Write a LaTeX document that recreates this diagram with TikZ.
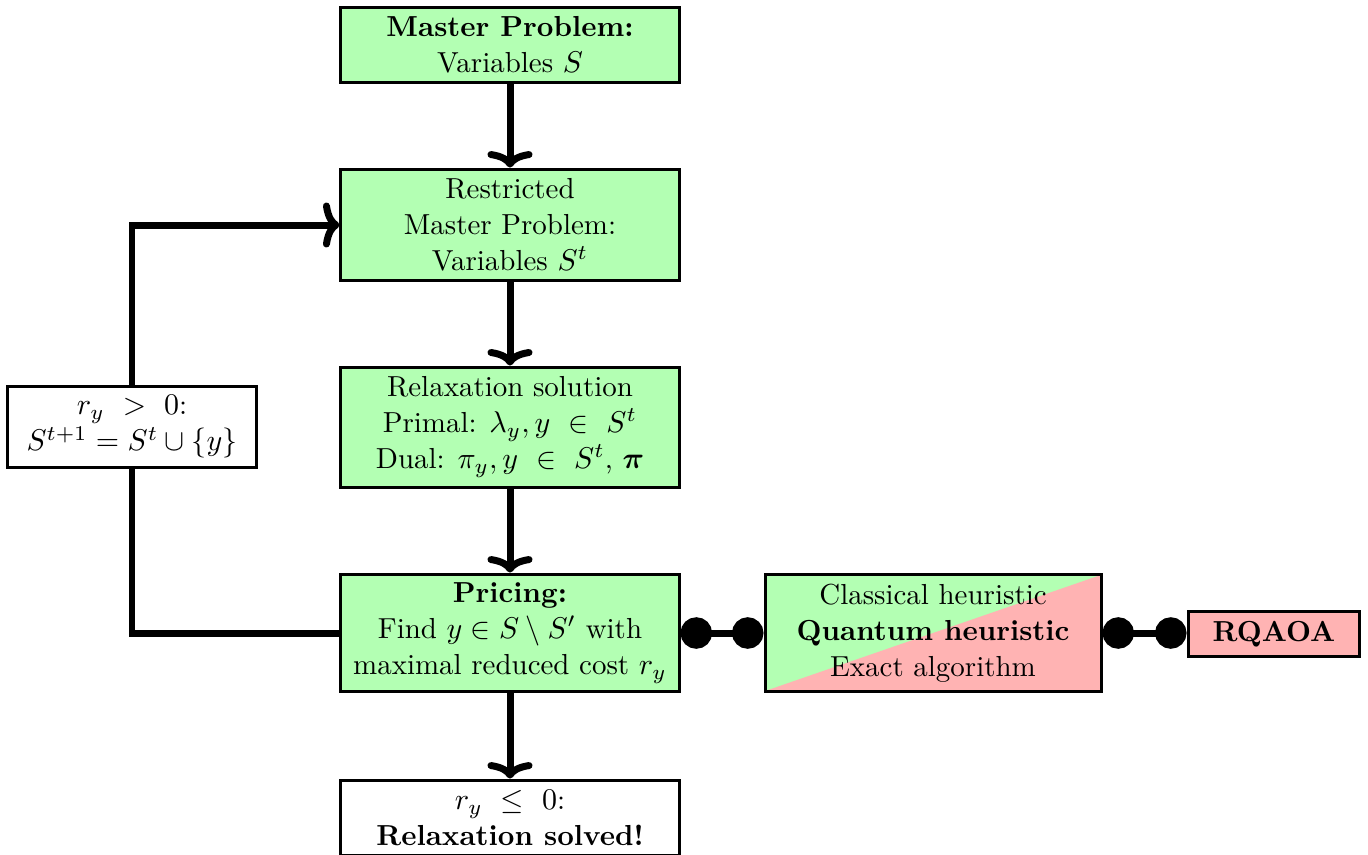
\documentclass[tikz,border=0pt]{standalone}
\usepackage{bm}
\usetikzlibrary{arrows.meta}
\definecolor{boxgreen}{HTML}{B3FFB3}
\definecolor{boxred}{HTML}{FFB3B3}
\begin{document}
\begin{tikzpicture}[x=0.33333pt,y=-0.33333pt,
  box/.style={draw=black,line width=1pt,align=center,inner sep=0pt,minimum width=112.7pt,font=\fontsize{9.65}{12}\selectfont},
  gbox/.style={box,fill=boxgreen},
  flow/.style={line width=2.33pt,-{To[length=5.5pt,width=15pt,line width=2.33pt,round]}},
  plain/.style={line width=2.33pt},
  dots/.style={line width=2.33pt,{Circle[length=10.5pt,width=10.5pt]}-{Circle[length=10.5pt,width=10.5pt]}}]
\useasboundingbox (0,0) rectangle (1368,854);
\node[gbox,minimum height=25.3pt] (master) at (510,45) {\textbf{Master Problem:}\\ Variables $S$};
\node[gbox,minimum height=37.3pt] (rmp) at (510,225) {Restricted\\ Master Problem:\\ Variables $S^t$};
\node[gbox,minimum height=40pt] (relax) at (510,427) {Relaxation solution\\ Primal: $\lambda_y, y\ \in\ S^t$\\ Dual: $\pi_y, y\ \in\ S^t$, $\bm{\pi}$};
\node[gbox,minimum height=39.3pt] (pricing) at (510,633) {\textbf{Pricing:}\\ Find $y\in S\setminus S'$ with\\ maximal reduced cost $r_y$};
\node[box,fill=white,minimum height=25.3pt] (solved) at (510,818) {$r_y\ \leq\ 0$:\\ \textbf{Relaxation solved!}};
\node[box,fill=white,minimum width=82.7pt,minimum height=27.3pt] (add) at (132,427) {$r_y\ >\ 0$:\\ $S^{t+1}=S^t\cup\{y\}$};
\node[box,fill=boxgreen,minimum width=112pt,minimum height=38.7pt,
  path picture={\fill[boxred] (path picture bounding box.south west) -- (path picture bounding box.north east) -- (path picture bounding box.south east) -- cycle;}] (heur) at (933,633) {Classical heuristic\\ \textbf{Quantum heuristic}\\ Exact algorithm};
\node[box,fill=boxred,minimum width=57.3pt,minimum height=15.3pt] (rqaoa) at (1274,634) {\textbf{RQAOA}};
\coordinate (cornlow) at (132,633);
\coordinate (cornup) at (132,225);
\draw[flow] (master) -- (rmp);
\draw[flow] (rmp) -- (relax);
\draw[flow] (relax) -- (pricing);
\draw[flow] (pricing) -- (solved);
\draw[plain] (pricing.west) -- (cornlow) -- (add.south);
\draw[flow] (add.north) -- (cornup) -- (rmp.west);
\draw[dots] (pricing.east) -- (heur.west);
\draw[dots] (heur.east) -- (rqaoa.west |- heur.east);
\end{tikzpicture}
\end{document}
